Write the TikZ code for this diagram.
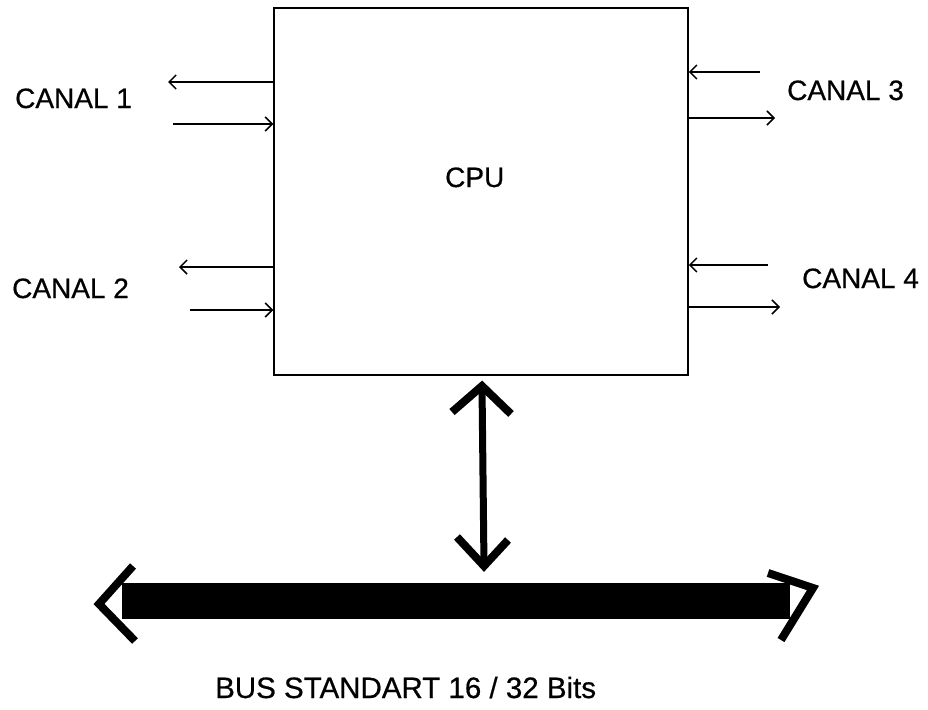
\documentclass[tikz,border=0pt]{standalone}
\usepackage{fontspec}
\setmainfont[FakeBold=0.6]{Liberation Sans}
\usetikzlibrary{arrows.meta,calc}
\begin{document}
\begin{tikzpicture}[x=1pt,y=-1pt,
  sig/.style={line width=1.5pt,-{Straight Barb[length=7pt,width=14pt,line width=1.5pt]}},
  lbl/.style={inner sep=0pt,anchor=base west,font=\fontsize{28}{34}\selectfont},
  chev/.style={line width=8pt,line join=miter,line cap=butt},
  shaft/.style={line width=7pt}]
\useasboundingbox (0,0) rectangle (928,709);
% CPU box
\node[draw,line width=1.5pt,minimum width=414pt,minimum height=367pt,inner sep=0pt] (cpu) at (481,191.5) {};
\node[lbl] (cputext) at (445,187) {CPU};
% channel labels
\node[lbl] (l1) at (15,108) {CANAL 1};
\node[lbl] (l2) at (12,298) {CANAL 2};
\node[lbl] (l3) at (787,100) {CANAL 3};
\node[lbl] (l4) at (802,288) {CANAL 4};
% channel connectors
\coordinate (c1o) at (168,82);
\coordinate (c1i) at (173,124);
\coordinate (c2o) at (179,267);
\coordinate (c2i) at (190,310);
\coordinate (c3i) at (760,72);
\coordinate (c3o) at (775,118);
\coordinate (c4i) at (768,265);
\coordinate (c4o) at (780,307);
\draw[sig] (cpu.west |- c1o) -- (c1o);
\draw[sig] (c1i) -- (cpu.west |- c1i);
\draw[sig] (cpu.west |- c2o) -- (c2o);
\draw[sig] (c2i) -- (cpu.west |- c2i);
\draw[sig] (c3i) -- (cpu.east |- c3i);
\draw[sig] (cpu.east |- c3o) -- (c3o);
\draw[sig] (c4i) -- (cpu.east |- c4i);
\draw[sig] (cpu.east |- c4o) -- (c4o);
% bus bar
\node[fill=black,minimum width=668pt,minimum height=36pt,inner sep=0pt] (bus) at (456,601) {};
\node[lbl,font=\fontsize{29.5}{34}\selectfont] (bustext) at (215,698) {BUS STANDART 16 / 32 Bits};
% vertical double arrow between CPU and bus
\coordinate (vtop) at (482,386);
\coordinate (vbot) at (484,566);
\draw[shaft] (vtop) -- (vbot);
\draw[chev] ($(vtop)+(-30,26)$) -- (vtop) -- ($(vtop)+(29,28)$);
\draw[chev] ($(vbot)+(-27,-29)$) -- (vbot) -- ($(vbot)+(24,-26)$);
% bus arrowheads
\coordinate (btl) at (99,604);
\draw[chev] (133,566) -- (btl) -- (135,641);
\draw[chev] (768,573) -- (813,588) -- (781,640);
\end{tikzpicture}
\end{document}
